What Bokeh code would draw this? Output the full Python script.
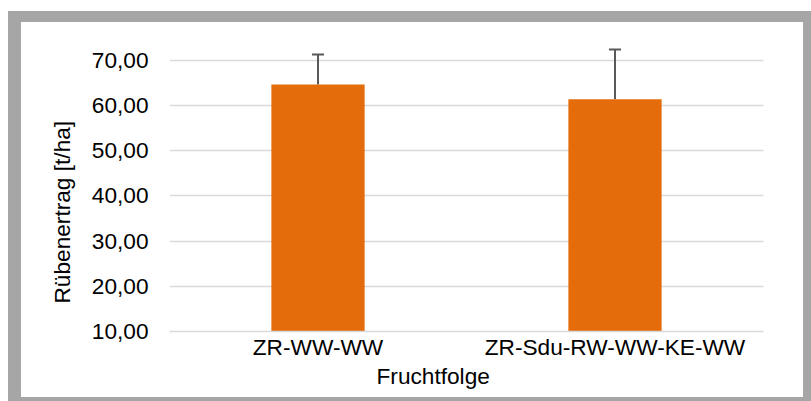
from bokeh.plotting import figure
from bokeh.models import FactorRange, Range1d, FixedTicker, Title, Whisker, TeeHead, ColumnDataSource
from bokeh.layouts import column
from bokeh.embed import file_html
from bokeh.resources import INLINE

categories = ["ZR-WW-WW", "ZR-Sdu-RW-WW-KE-WW"]
yields = [64.7, 61.4]
errors = [6.6, 11.0]
y_ticks = [10, 20, 30, 40, 50, 60, 70]
y_tick_labels = ["10,00", "20,00", "30,00", "40,00", "50,00", "60,00", "70,00"]
x_title = "Fruchtfolge"
y_title = "Rübenertrag [t/ha]"

FONT = "Liberation Sans"
FS = "17pt"

src = ColumnDataSource(dict(
    cat=categories,
    val=yields,
    upper=[v + e for v, e in zip(yields, errors)],
))

p = figure(width=782, height=375, x_range=FactorRange(*categories),
           y_range=Range1d(10, 74.42), output_backend="svg",
           toolbar_location=None, min_border_left=148, min_border_right=40,
           min_border_top=18, min_border_bottom=66,
           styles={"background-color": "white"})
p.background_fill_color = "white"
p.border_fill_color = "white"
p.outline_line_color = None

p.vbar(x="cat", top="val", bottom=10, width=0.314, source=src,
       fill_color="#E46C0A", line_color=None)

w = Whisker(base="cat", upper="upper", lower="val", source=src,
            line_color="#595959", line_width=2,
            upper_head=TeeHead(size=12, line_color="#595959", line_width=2),
            lower_head=None)
p.add_layout(w)

ticker = FixedTicker(ticks=y_ticks)
p.yaxis.ticker = ticker
p.ygrid.ticker = ticker
p.yaxis.major_label_overrides = {t: l for t, l in zip(y_ticks, y_tick_labels)}
p.yaxis.major_tick_out = 0
p.yaxis.major_tick_in = 0
p.yaxis.minor_tick_out = 0
p.yaxis.minor_tick_in = 0
p.yaxis.axis_line_color = None
p.yaxis.major_label_standoff = 21
p.yaxis.major_label_text_font = FONT
p.yaxis.major_label_text_font_size = FS
p.yaxis.major_label_text_color = "black"

p.xaxis.major_tick_out = 0
p.xaxis.major_tick_in = 0
p.xaxis.axis_line_color = "#d9d9d9"
p.xaxis.axis_line_width = 1.5
p.xaxis.major_label_standoff = 2
p.xaxis.major_label_text_font = FONT
p.xaxis.major_label_text_font_size = FS
p.xaxis.major_label_text_color = "black"

p.xgrid.grid_line_color = None
p.ygrid.grid_line_color = "#d9d9d9"
p.ygrid.grid_line_width = 1.5

p.add_layout(Title(text=x_title, align="left", offset=207, standoff=-4,
                   text_font=FONT, text_font_size=FS, text_font_style="normal",
                   text_color="black"), "below")
p.add_layout(Title(text=y_title, align="left", offset=28, standoff=27,
                   text_font=FONT, text_font_size=FS, text_font_style="normal",
                   text_color="black"), "left")

layout = column(p, styles={"margin-top": "11px", "margin-left": "8px",
                           "background-color": "#a6a6a6",
                           "padding": "11px 8px 4px 13px"})

open("out.html", "w").write(file_html(layout, INLINE))
